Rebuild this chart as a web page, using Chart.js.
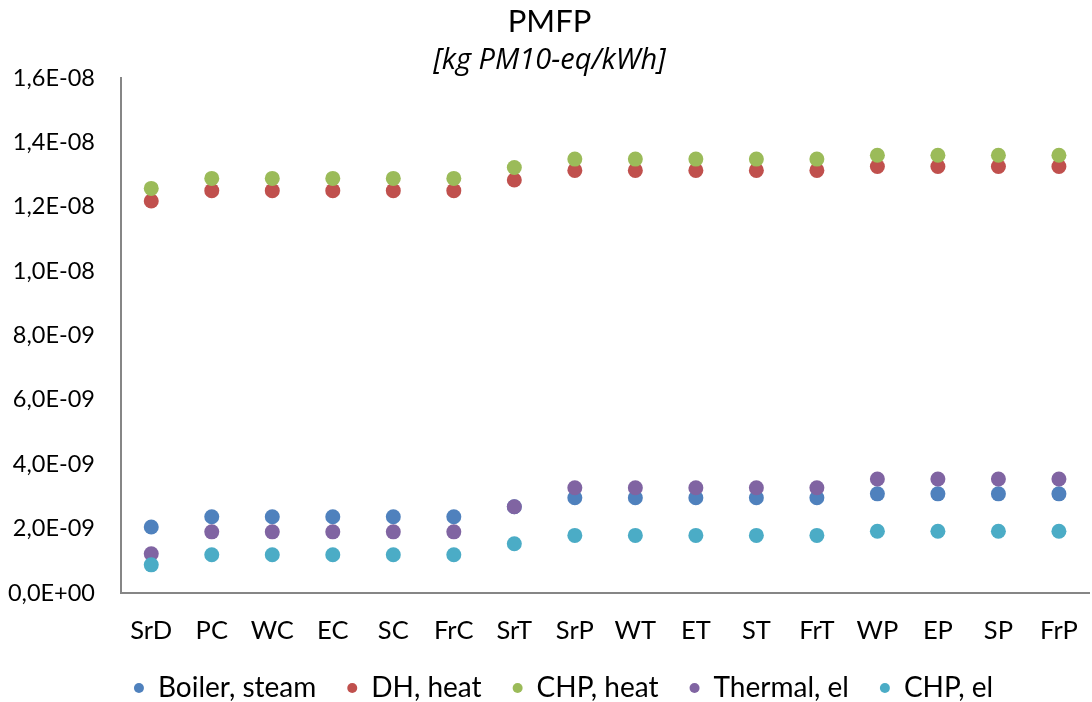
<!DOCTYPE html>
<html>
<head>
<meta charset="utf-8">
<title>PMFP</title>
<script src="https://cdn.jsdelivr.net/npm/chart.js@4.4.1/dist/chart.umd.min.js"></script>
<style>
  html, body { margin: 0; padding: 0; background: #fff; overflow: hidden; }
  #wrap { width: 1100px; height: 702px; }
</style>
</head>
<body>
<div id="wrap"><canvas id="pmfp" width="1100" height="702"></canvas></div>
<script>
"use strict";

// categories and series [kg PM10-eq/kWh]
const categories = ['SrD', 'PC', 'WC', 'EC', 'SC', 'FrC', 'SrT', 'SrP', 'WT', 'ET', 'ST', 'FrT', 'WP', 'EP', 'SP', 'FrP'];
const boilerSteam = [2.05e-9, 2.37e-9, 2.37e-9, 2.37e-9, 2.37e-9, 2.37e-9, 2.68e-9, 2.96e-9, 2.96e-9, 2.96e-9, 2.96e-9, 2.96e-9, 3.08e-9, 3.08e-9, 3.08e-9, 3.08e-9];
const dhHeat = [1.218e-8, 1.250e-8, 1.250e-8, 1.250e-8, 1.250e-8, 1.250e-8, 1.283e-8, 1.313e-8, 1.313e-8, 1.313e-8, 1.313e-8, 1.313e-8, 1.325e-8, 1.325e-8, 1.325e-8, 1.325e-8];
const chpHeat = [1.257e-8, 1.288e-8, 1.288e-8, 1.288e-8, 1.288e-8, 1.288e-8, 1.322e-8, 1.348e-8, 1.348e-8, 1.348e-8, 1.348e-8, 1.348e-8, 1.360e-8, 1.360e-8, 1.360e-8, 1.360e-8];
const thermalEl = [1.22e-9, 1.90e-9, 1.90e-9, 1.90e-9, 1.90e-9, 1.90e-9, 2.68e-9, 3.27e-9, 3.27e-9, 3.27e-9, 3.27e-9, 3.27e-9, 3.54e-9, 3.54e-9, 3.54e-9, 3.54e-9];
const chpEl = [0.875e-9, 1.19e-9, 1.19e-9, 1.19e-9, 1.19e-9, 1.19e-9, 1.53e-9, 1.79e-9, 1.79e-9, 1.79e-9, 1.79e-9, 1.79e-9, 1.92e-9, 1.92e-9, 1.92e-9, 1.92e-9];

const seriesNames = ['Boiler, steam', 'DH, heat', 'CHP, heat', 'Thermal, el', 'CHP, el'];
const seriesColors = ['#4F81BD', '#C0504D', '#9BBB59', '#8064A2', '#4BACC6'];
const yTicks = { min: 0, max: 1.6e-8, step: 2e-9 };

const FONT = 'Lato, "Open Sans", sans-serif';
const AXIS_GREY = '#868686';

// 1.2e-8 -> "1,2E-08"
function sciComma(v) {
    if (Math.abs(v) < 1e-20) return '0,0E+00';
    let e = Math.floor(Math.log10(Math.abs(v)));
    let m = v / Math.pow(10, e);
    if (Math.round(m * 10) / 10 >= 10) { m /= 10; e++; }
    const sign = e < 0 ? '-' : '+';
    return m.toFixed(1).replace('.', ',') + 'E' + sign + String(Math.abs(e)).padStart(2, '0');
}

const allSeries = [boilerSteam, dhHeat, chpHeat, thermalEl, chpEl];

const datasets = allSeries.map(function(values, i){
    return {
        label: seriesNames[i],
        data: values,
        showLine: false,
        backgroundColor: seriesColors[i],
        borderColor: seriesColors[i],
        pointRadius: 7.5,
        pointHoverRadius: 7.5,
        pointBorderWidth: 0,
        pointStyle: 'circle',
        // later series sit on top
        order: allSeries.length - 1 - i
    };
});

// legend row sits a little right of centre
const legendNudge = {
    id: 'legendNudge',
    afterLayout: function(chart){
        chart.legend.left += 14;
        chart.legend.right += 14;
    }
};

new Chart(document.getElementById('pmfp'), {
    type: 'line',
    data: { labels: categories, datasets: datasets },
    plugins: [legendNudge],
    options: {
        responsive: false,
        devicePixelRatio: 1,
        animation: false,
        layout: { padding: { left: 0, right: 1, top: 0, bottom: -10 } },
        plugins: {
            title: {
                display: true,
                text: 'PMFP',
                color: '#000',
                font: { family: FONT, size: 31, weight: 'normal' },
                padding: { top: 3, bottom: 3 }
            },
            subtitle: {
                display: true,
                text: '[kg PM10-eq/kWh]',
                color: '#000',
                font: { family: '"Open Sans", Lato, sans-serif', size: 29, style: 'italic', weight: 'normal' },
                padding: { top: 0, bottom: 0 }
            },
            legend: {
                position: 'bottom',
                labels: {
                    color: '#000',
                    font: { family: FONT, size: 28 },
                    usePointStyle: true,
                    pointStyleWidth: 10,
                    boxWidth: 10,
                    boxHeight: 7,
                    padding: 31,
                    sort: function(a, b){ return a.datasetIndex - b.datasetIndex; }
                }
            },
            tooltip: { enabled: false }
        },
        scales: {
            x: {
                offset: true,
                clip: false,
                grid: { display: false, drawTicks: false },
                border: { display: true, color: AXIS_GREY, width: 2 },
                ticks: {
                    color: '#000',
                    font: { family: FONT, size: 25.5 },
                    padding: 22,
                    maxRotation: 0,
                    autoSkip: false
                },
                afterFit: function(scale){ scale.height = 50; }
            },
            y: {
                min: yTicks.min,
                max: yTicks.max,
                clip: false,
                grid: { display: false, drawTicks: false },
                border: { display: true, color: AXIS_GREY, width: 2 },
                ticks: {
                    stepSize: yTicks.step,
                    color: '#000',
                    font: { family: FONT, size: 23.5 },
                    padding: 26,
                    callback: function(value){ return sciComma(value); }
                },
                afterFit: function(scale){ scale.width = 121; }
            }
        }
    }
});
</script>
</body>
</html>
